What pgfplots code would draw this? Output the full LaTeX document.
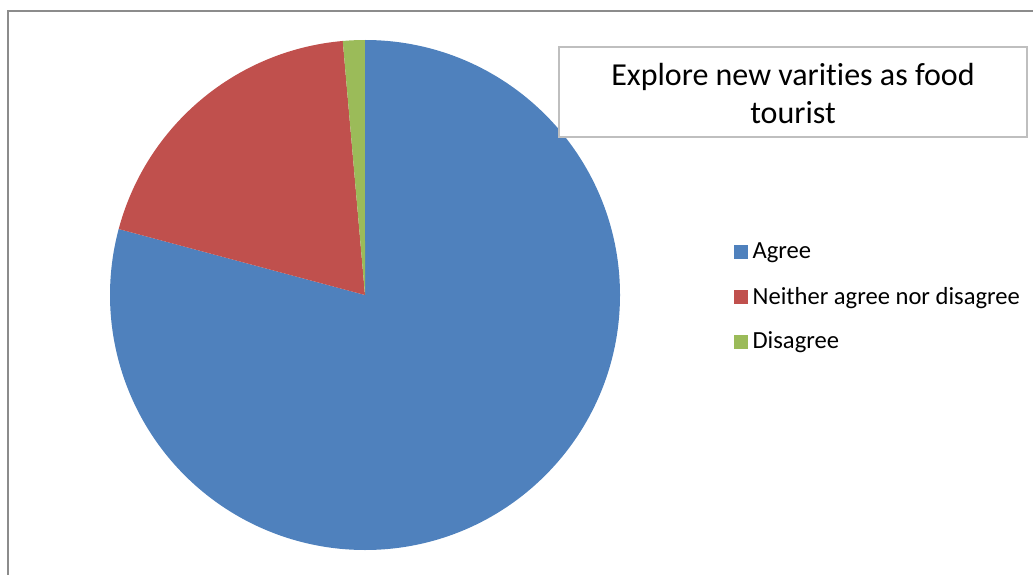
\documentclass[border=0pt]{standalone}
\usepackage{pgfplots}
\usepackage{pgfplotstable}
\pgfplotsset{compat=1.18}
\usepackage{fontspec}
\setmainfont{Carlito}[Ligatures=NoCommon]
\definecolor{cblue}{HTML}{4F81BD}
\definecolor{cred}{HTML}{C0504D}
\definecolor{cgreen}{HTML}{9BBB59}
\definecolor{cframe}{HTML}{8C8C8C}
\definecolor{cbox}{HTML}{BFBFBF}
\pgfplotstableread{
label value
Agree 57
Neither 14
Disagree 1
}\piedata
\begin{document}
\begin{tikzpicture}
\useasboundingbox (0,0) rectangle (1033pt,574pt);
\clip (0,0) rectangle (1033pt,574pt);
\begin{axis}[
  scale only axis, width=1033pt, height=574pt,
  xmin=0, xmax=1033, ymin=0, ymax=574,
  axis lines=none, clip=false,
  legend style={draw=none, fill=none, at={(axis cs:731,335)}, anchor=north west,
    font=\fontsize{24.6}{28}\selectfont, row sep=22.5pt, column sep=3pt,
    cells={anchor=west}},
  legend image code/.code={\fill[#1] (0pt,-6.5pt) rectangle (13pt,6.5pt);},
]
% outer chart frame
\draw[cframe, line width=1.3pt] (axis cs:8,-20) -- (axis cs:8,563) -- (axis cs:1050,563);
% pie from the table
\pgfplotstablegetelem{0}{value}\of\piedata \let\va\pgfplotsretval
\pgfplotstablegetelem{1}{value}\of\piedata \let\vb\pgfplotsretval
\pgfplotstablegetelem{2}{value}\of\piedata \let\vc\pgfplotsretval
\pgfmathsetmacro\tot{\va+\vb+\vc}
\pgfmathsetmacro\aA{90-360*(\va/\tot)}
\pgfmathsetmacro\aB{\aA-360*(\vb/\tot)}
\pgfmathsetmacro\aC{\aB-360*(\vc/\tot)}
\fill[cblue] (axis cs:365,279) -- ++(90:255pt) arc[start angle=90, end angle=\aA, radius=255pt] -- cycle;
\fill[cred] (axis cs:365,279) -- ++(\aA:255pt) arc[start angle=\aA, end angle=\aB, radius=255pt] -- cycle;
\fill[cgreen] (axis cs:365,279) -- ++(\aB:255pt) arc[start angle=\aB, end angle=\aC, radius=255pt] -- cycle;
% title box
\draw[cbox, line width=1.3pt, fill=white] (axis cs:559,437) rectangle (axis cs:1027,527);
\node[align=center, font=\fontsize{32}{38}\selectfont] at (axis cs:793,480) {Explore new varities as food\\tourist};
\addlegendimage{cblue}\addlegendentry{Agree}
\addlegendimage{cred}\addlegendentry{Neither agree nor disagree}
\addlegendimage{cgreen}\addlegendentry{Disagree}
\end{axis}
\end{tikzpicture}
\end{document}
